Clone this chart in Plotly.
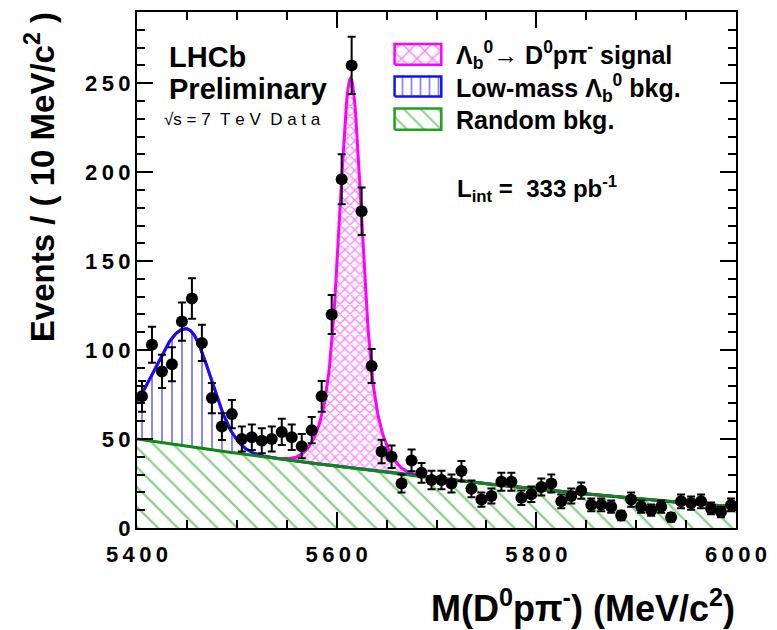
import numpy as np
import plotly.graph_objects as go

# ---------------- data ----------------
bin_centers = [5405 + 10 * i for i in range(60)]
counts = [74, 103, 88, 92, 116, 129, 104, 73, 57, 64,
          50, 51, 49, 50, 54, 51, 46, 55, 74, 120,
          196, 260, 178, 91, 43, 40, 25, 38, 31, 27,
          27, 25, 32, 22, 16, 18, 26, 26, 17, 19,
          23, 25, 15, 18, 21, 13, 13, 12, 7, 16,
          12, 10, 12, 6, 15, 14, 15, 11, 9, 13]

# fit-model parameters
bkg_coeffs = [50.0, -0.0828, 3.17e-5]          # random bkg: polynomial in (m - 5400)
low_mean, low_sigL, low_sigR, low_amp = 5450.0, 33.0, 24.0, 66.0
sig_mean, sig_s1, sig_s2, sig_frac, sig_amp = 5614.0, 10.0, 21.0, 0.7, 219.0

x_ticks = [5400, 5600, 5800, 6000]
x_ticklabels = ["5\u20094\u20090\u20090", "5\u20096\u20090\u20090", "5\u20098\u20090\u20090", "6\u20090\u20090\u20090"]
y_ticks = [0, 50, 100, 150, 200, 250]
y_ticklabels = ["0", "5\u20090", "1\u20090\u20090", "1\u20095\u20090", "2\u20090\u20090", "2\u20095\u20090"]

legend_labels = ["\u039b<sub>b</sub><sup>0</sup>\u2192 D<sup>0</sup>p\u03c0<sup>-</sup> signal",
                 "Low-mass \u039b<sub>b</sub><sup>0</sup> bkg.",
                 "Random bkg."]

# ---------------- model curves ----------------
m = np.linspace(5400, 6000, 601)
t = m - 5400
bkg = bkg_coeffs[0] + bkg_coeffs[1] * t + bkg_coeffs[2] * t ** 2
sig_low = np.where(m < low_mean, low_sigL, low_sigR)
low = low_amp * np.exp(-0.5 * ((m - low_mean) / sig_low) ** 2)
sig = sig_amp * (sig_frac * np.exp(-0.5 * ((m - sig_mean) / sig_s1) ** 2)
                 + (1 - sig_frac) * np.exp(-0.5 * ((m - sig_mean) / sig_s2) ** 2))
lvl1 = bkg
lvl2 = bkg + low
lvl3 = bkg + low + sig

GREEN_H = "#1ea51e"
GREEN_L = "#118811"
BLUE = "#1010ff"
MAG = "#ff00ff"
FONT = "Liberation Sans"

fig = go.Figure()
# hatched stacked areas
fig.add_trace(go.Scatter(x=m, y=lvl1, mode="lines", line=dict(width=0), fill="tozeroy",
                         fillcolor="rgba(0,0,0,0)",
                         fillpattern=dict(shape="\\", fgcolor=GREEN_H, size=14, solidity=0.17),
                         hoverinfo="skip", showlegend=False))
fig.add_trace(go.Scatter(x=m, y=lvl2, mode="lines", line=dict(width=0), fill="tonexty",
                         fillcolor="rgba(0,0,0,0)",
                         fillpattern=dict(shape="|", fgcolor=BLUE, size=10, solidity=0.2),
                         hoverinfo="skip", showlegend=False))
fig.add_trace(go.Scatter(x=m, y=lvl3, mode="lines", line=dict(width=0), fill="tonexty",
                         fillcolor="rgba(0,0,0,0)",
                         fillpattern=dict(shape="x", fgcolor=MAG, size=7, solidity=0.32),
                         hoverinfo="skip", showlegend=False))
# curves
fig.add_trace(go.Scatter(x=m, y=lvl3, mode="lines", line=dict(color=MAG, width=3), showlegend=False))
fig.add_trace(go.Scatter(x=m, y=lvl2, mode="lines", line=dict(color=BLUE, width=3), showlegend=False))
fig.add_trace(go.Scatter(x=m, y=lvl1, mode="lines", line=dict(color=GREEN_L, width=3), showlegend=False))
# data
fig.add_trace(go.Scatter(x=bin_centers, y=counts, mode="markers",
                         marker=dict(color="black", size=12),
                         error_y=dict(type="data", array=np.sqrt(counts), color="black",
                                      thickness=2, width=4),
                         showlegend=False))

# legend boxes on an overlay axis (fractions of plot area)
boxes = [(0.430, 0.508, 0.898, 0.938, MAG, "x", 11, 0.25),
         (0.430, 0.508, 0.836, 0.875, BLUE, "|", 9, 0.2),
         (0.430, 0.508, 0.772, 0.813, "#22a022", "\\", 12, 0.17)]
for x0, x1, y0, y1, col, shp, sz, sol in boxes:
    fig.add_trace(go.Scatter(x=[x0, x1, x1, x0, x0], y=[y0, y0, y1, y1, y0], mode="lines",
                             line=dict(color=col, width=2.5), fill="toself",
                             fillcolor="rgba(0,0,0,0)",
                             fillpattern=dict(shape=shp, fgcolor=col, size=sz, solidity=sol),
                             xaxis="x2", yaxis="y2", hoverinfo="skip", showlegend=False))

axis_common = dict(showline=True, linecolor="black", linewidth=2, mirror="ticks",
                   ticks="inside", tickcolor="black", tickwidth=2, ticklen=16,
                   showgrid=False, zeroline=False,
                   tickfont=dict(family=FONT, size=22, color="black", weight="bold"))
fig.update_layout(
    width=777, height=630,
    margin=dict(l=137, r=40, t=10, b=102),
    paper_bgcolor="white", plot_bgcolor="white",
    xaxis=dict(range=[5400, 6000], tickvals=x_ticks, ticktext=x_ticklabels, ticklabelstandoff=6,
               minor=dict(dtick=50, ticklen=8, ticks="inside", tickcolor="black", tickwidth=2),
               **axis_common),
    yaxis=dict(range=[0, 290], tickvals=y_ticks, ticktext=y_ticklabels,
               minor=dict(dtick=10, ticklen=8, ticks="inside", tickcolor="black", tickwidth=2),
               **axis_common),
    xaxis2=dict(range=[0, 1], overlaying="x", anchor="y2", visible=False, fixedrange=True),
    yaxis2=dict(range=[0, 1], overlaying="y", anchor="x2", visible=False, fixedrange=True),
    font=dict(family=FONT, color="black"),
)

def px(xp):
    return (xp - 137) / 600.0

def py(yp):
    return (528 - yp) / 518.0

ann = [
    dict(text="<b>Events / ( 10 MeV/c<sup>2</sup> )</b>", x=px(40), y=py(8), textangle=-90,
         xanchor="center", yanchor="top", font=dict(size=33)),
    dict(text="<b>M(D<sup>0</sup>p\u03c0<sup>-</sup>) (MeV/c<sup>2</sup>)</b>", x=px(738), y=py(606),
         xanchor="right", yanchor="middle", font=dict(size=36)),
    dict(text="<b>LHCb</b>", x=px(167), y=py(55), xanchor="left", yanchor="middle", font=dict(size=29)),
    dict(text="<b>Preliminary</b>", x=px(167), y=py(87), xanchor="left", yanchor="middle", font=dict(size=29)),
    dict(text="\u221as\u00a0=\u00a07\u00a0\u00a0T\u00a0e\u00a0V\u00a0\u00a0D\u00a0a\u00a0t\u00a0a",
         x=px(162), y=py(118), xanchor="left", yanchor="middle", font=dict(size=17)),
    dict(text="<b>L<sub>int</sub> =\u00a0\u00a0333 pb<sup>-1</sup></b>", x=px(456), y=py(188),
         xanchor="left", yanchor="middle", font=dict(size=24)),
]
for i, lab in enumerate(legend_labels):
    ann.append(dict(text="<b>" + lab + "</b>", x=px(455), y=py([53, 86, 118][i]),
                    xanchor="left", yanchor="middle", font=dict(size=25)))
for a in ann:
    a.update(xref="paper", yref="paper", showarrow=False)
    a["font"] = dict(family=FONT, color="black", size=a["font"]["size"])
fig.update_layout(annotations=ann)

fig.write_html("out.html")
